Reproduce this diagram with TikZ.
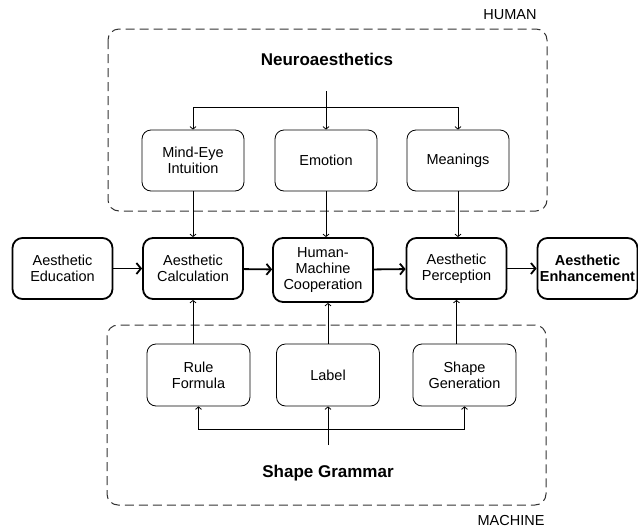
\documentclass[tikz,border=0pt]{standalone}
\usepackage{fontspec}
\setmainfont{Liberation Sans}
\usetikzlibrary{arrows.meta}

\begin{document}
\begin{tikzpicture}[x=1pt,y=-1pt,
    mainbox/.style={draw,line width=1.8pt,rounded corners=10pt,align=center,
      minimum width=100pt,minimum height=61pt,inner sep=2pt,
      font=\fontsize{14.5}{16}\selectfont},
    subbox/.style={draw,line width=0.8pt,rounded corners=9pt,align=center,
      minimum width=102pt,minimum height=61pt,inner sep=2pt,
      font=\fontsize{14.5}{16}\selectfont},
    group/.style={draw=black!80,line width=1pt,dash pattern=on 9pt off 5pt,rounded corners=11pt},
    title/.style={font=\fontsize{17}{20}\selectfont\bfseries},
    side/.style={font=\fontsize{14.5}{17}\selectfont},
    flow/.style={line width=1.8pt,-{Straight Barb[length=4.5pt,width=11pt]}},
    link/.style={line width=0.8pt,-{Straight Barb[length=2.5pt,width=6pt]}}]
  \useasboundingbox (0,0) rectangle (638,528);

  \draw[group] (108,29) rectangle (547,211);
  \draw[group] (107,325) rectangle (546,505);
  \node[side] (human) at (510,15) {HUMAN};
  \node[side] (machine) at (511,521) {MACHINE};

  \node[title] (neuro) at (327,59) {Neuroaesthetics};
  \node[subbox] (mindeye) at (193,160.5) {Mind-Eye\\Intuition};
  \node[subbox] (emotion) at (326,160.5) {Emotion};
  \node[subbox] (meanings) at (458,160.5) {Meanings};

  \node[mainbox] (aedu) at (62.5,268.5) {Aesthetic\\Education};
  \node[mainbox] (acalc) at (193,268.5) {Aesthetic\\Calculation};
  \node[mainbox,minimum height=64pt] (hmc) at (323,270) {Human-\\Machine\\Cooperation};
  \node[mainbox] (aperc) at (456.5,268.5) {Aesthetic\\Perception};
  \node[mainbox] (aenh) at (587.5,268.5) {\bfseries Aesthetic\\\bfseries Enhancement};

  \node[subbox,minimum width=103pt,minimum height=62pt] (rule) at (198.5,375) {Rule\\Formula};
  \node[subbox,minimum width=103pt,minimum height=62pt] (label) at (328,375) {Label};
  \node[subbox,minimum width=103pt,minimum height=62pt] (shapegen) at (464.5,375) {Shape\\Generation};
  \node[title] (grammar) at (328,473) {Shape Grammar};

  \coordinate (ntop) at (326,91);
  \coordinate (nmid) at (326,107);
  \coordinate (gbot) at (328,445);
  \coordinate (gmid) at (328,429);

  \draw[link] (ntop) -- (emotion.north);
  \draw[link] (nmid) -| (mindeye.north);
  \draw[link] (nmid) -| (meanings.north);

  \draw[link] (mindeye.south) -- (acalc.north);
  \draw[link] (emotion.south) -- (emotion.south |- hmc.north);
  \draw[link] (meanings.south) -- (meanings.south |- aperc.north);

  \draw[link] (acalc.south |- rule.north) -- (acalc.south);
  \draw[link] (label.north) -- (label.north |- hmc.south);
  \draw[link] (aperc.south |- shapegen.north) -- (aperc.south);

  \draw[link] (gbot) -- (label.south);
  \draw[link] (gmid) -| (rule.south);
  \draw[link] (gmid) -| (shapegen.south);

  \path (aedu) edge[flow] (acalc);
  \path (acalc) edge[flow] (hmc);
  \path (hmc) edge[flow] (aperc);
  \path (aperc) edge[flow] (aenh);
\end{tikzpicture}
\end{document}
